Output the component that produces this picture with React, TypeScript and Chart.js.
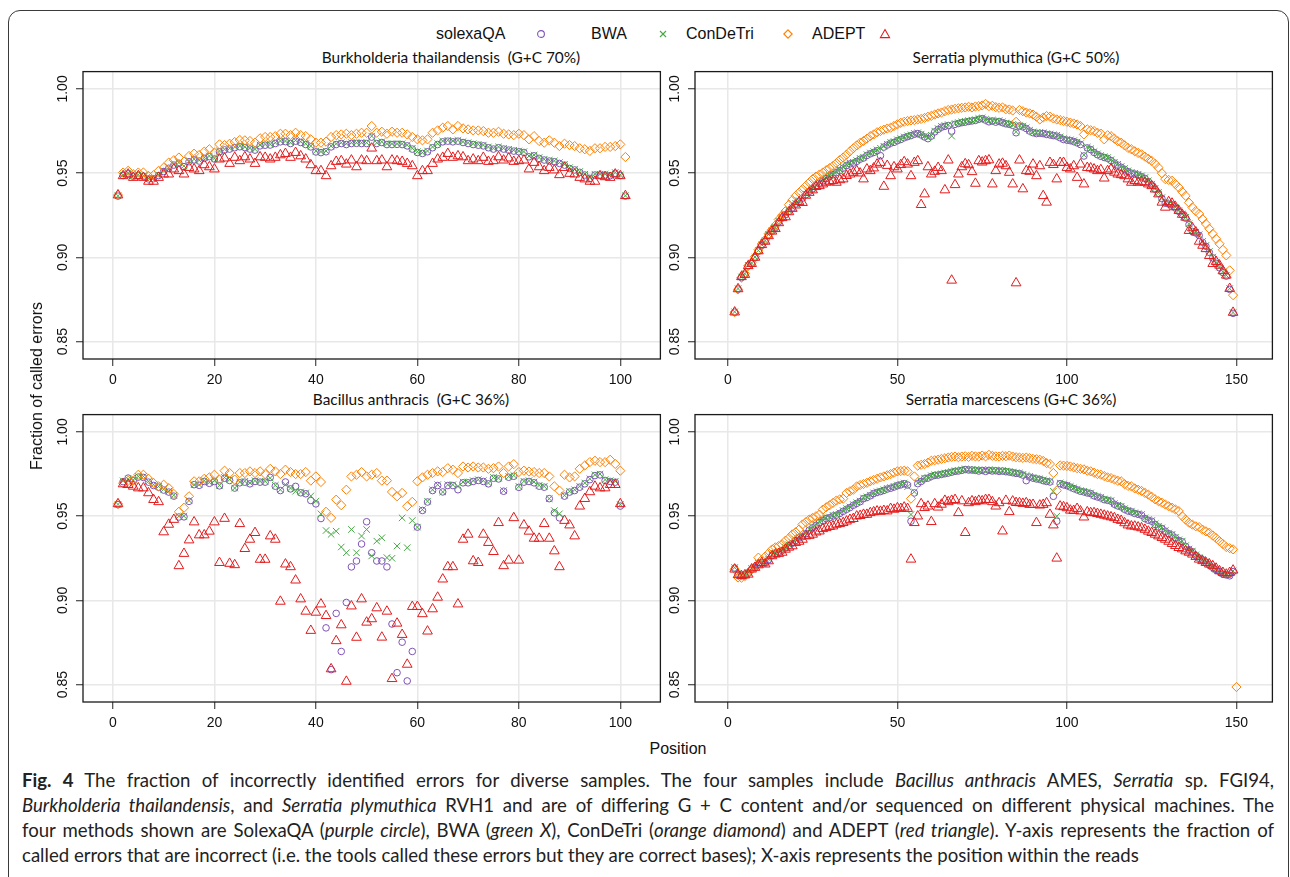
import React, { useEffect, useRef } from 'react';
import { Chart, registerables } from 'chart.js';
Chart.register(...registerables);

const range = (a: number, b: number) => Array.from({ length: b - a + 1 }, (_, i) => a + i);

// ---------- Panel 1: Burkholderia thailandensis (positions 1..101), values in thousandths ----------
const P1_POS = range(1, 101);
const P1_SOLEXA = [
  936.4, 948.6, 949.6, 948.2, 948.7, 948.1, 946.6, 946.7, 948.6, 951.0,
  952.9, 954.8, 955.9, 953.9, 956.8, 957.9, 957.2, 958.8, 959.8, 958.4,
  962.7, 963.8, 964.3, 965.1, 965.7, 965.2, 964.3, 963.7, 966.2, 966.6,
  966.7, 967.6, 968.6, 968.7, 967.6, 969.0, 968.2, 967.0, 965.6, 962.6,
  962.2, 962.7, 965.6, 967.0, 967.6, 967.0, 967.6, 967.7, 967.6, 967.6,
  971.4, 967.6, 968.2, 967.0, 967.0, 967.1, 967.0, 966.2, 964.3, 962.3,
  961.7, 962.7, 965.1, 967.0, 968.6, 969.0, 968.6, 969.0, 968.2, 967.6,
  967.0, 966.6, 966.2, 965.1, 964.3, 965.1, 964.3, 963.7, 963.1, 962.7,
  962.3, 959.7, 960.3, 958.8, 957.8, 957.2, 956.8, 955.8, 954.8, 952.8,
  951.9, 950.5, 948.9, 946.9, 948.9, 948.9, 948.9, 948.5, 949.9, 948.6,
  936.4,
];
const P1_BWA = [
  936.6, 949.0, 950.0, 948.5, 949.0, 948.5, 947.0, 947.0, 949.0, 951.4,
  953.3, 955.3, 956.3, 954.3, 957.3, 958.3, 957.7, 959.3, 960.2, 958.9,
  963.2, 964.2, 964.8, 965.6, 966.1, 965.6, 964.8, 964.2, 966.7, 967.1,
  967.1, 968.1, 969.1, 969.1, 968.1, 969.5, 968.7, 967.5, 966.1, 963.2,
  962.8, 963.2, 966.1, 967.5, 968.1, 967.5, 968.1, 968.1, 968.1, 968.1,
  972.0, 968.1, 968.7, 967.5, 967.5, 967.5, 967.5, 966.7, 964.8, 962.8,
  962.2, 963.2, 965.6, 967.5, 969.1, 969.5, 969.1, 969.5, 968.7, 968.1,
  967.5, 967.1, 966.7, 965.6, 964.8, 965.6, 964.8, 964.2, 963.6, 963.2,
  962.8, 960.2, 960.8, 959.3, 958.3, 957.7, 957.3, 956.3, 955.3, 953.3,
  952.4, 951.0, 949.4, 947.4, 949.4, 949.4, 949.4, 949.0, 950.4, 949.0,
  936.6,
];
const P1_CONDETRI = [
  937.0, 950.4, 951.4, 949.4, 950.4, 950.4, 948.4, 948.8, 951.4, 953.3,
  956.3, 957.7, 959.3, 956.9, 960.2, 961.6, 960.8, 962.8, 964.2, 962.2,
  967.1, 966.7, 967.5, 968.5, 969.7, 969.5, 969.1, 968.1, 970.7, 971.5,
  971.5, 972.0, 973.4, 973.4, 972.6, 974.0, 972.6, 972.0, 970.1, 968.1,
  968.1, 968.7, 971.5, 972.6, 973.0, 973.4, 972.6, 973.4, 974.0, 974.0,
  978.0, 974.0, 974.6, 973.4, 974.6, 974.0, 974.0, 973.0, 971.5, 970.1,
  969.5, 970.1, 974.0, 975.4, 977.0, 978.0, 976.0, 978.0, 976.6, 976.0,
  975.4, 975.4, 975.0, 974.0, 974.0, 974.6, 973.4, 973.0, 972.6, 973.4,
  972.6, 970.1, 972.0, 969.1, 968.1, 969.5, 968.1, 966.1, 967.5, 966.7,
  966.1, 964.8, 964.2, 963.2, 964.8, 964.8, 965.6, 965.6, 966.1, 967.1,
  959.6,
];
const P1_ADEPT = [
  937.0, 948.4, 949.4, 947.4, 948.4, 947.4, 945.1, 945.1, 947.4, 949.4,
  949.4, 952.4, 951.4, 949.4, 953.3, 952.4, 951.4, 954.9, 953.7, 952.4,
  958.3, 958.9, 955.7, 959.3, 957.3, 959.6, 958.3, 955.7, 959.6, 959.3,
  958.3, 959.3, 960.8, 961.6, 959.3, 962.2, 960.2, 958.3, 954.9, 951.4,
  951.4, 948.4, 954.3, 956.9, 957.3, 955.3, 957.7, 953.7, 957.7, 957.3,
  964.8, 957.3, 957.7, 953.7, 957.7, 957.3, 956.9, 955.7, 954.3, 948.4,
  951.4, 951.4, 955.7, 958.3, 959.3, 961.6, 959.3, 960.2, 959.6, 957.3,
  958.3, 957.3, 959.3, 956.9, 957.3, 959.6, 957.7, 958.9, 956.9, 957.3,
  957.7, 952.4, 956.3, 953.7, 951.4, 953.3, 951.8, 949.0, 953.3, 949.8,
  949.4, 947.4, 946.5, 945.1, 945.1, 948.4, 947.8, 947.4, 949.4, 948.4,
  936.6,
];

// ---------- Panel 2: Serratia plymuthica (positions 2..149) ----------
const P2_POS = range(2, 149);
const P2_SOLEXA = [
  867.5, 881.2, 888.0, 890.0, 895.0, 896.3, 899.8, 903.7, 907.1, 909.6,
  913.2, 915.6, 917.6, 921.1, 923.4, 925.4, 927.4, 929.3, 931.7, 933.3,
  935.2, 937.2, 939.2, 940.7, 942.5, 944.1, 945.4, 946.8, 948.2, 949.1,
  950.3, 951.5, 953.0, 954.5, 955.5, 956.0, 957.0, 958.3, 959.0, 960.5,
  961.5, 962.3, 963.3, 960.4, 965.5, 966.7, 967.8, 968.3, 969.3, 970.0,
  971.0, 971.7, 972.3, 973.1, 973.5, 972.7, 971.5, 970.5, 972.0, 974.5,
  976.0, 977.3, 977.8, 978.3, 975.0, 979.0, 979.5, 980.0, 980.3, 980.7,
  981.0, 981.3, 982.0, 982.4, 981.5, 980.5, 981.0, 980.3, 980.7, 980.0,
  979.3, 979.0, 978.4, 974.0, 978.0, 977.5, 976.5, 975.0, 974.0, 973.5,
  973.7, 973.5, 973.0, 972.7, 972.3, 972.0, 971.0, 970.0, 969.6, 969.3,
  968.8, 968.0, 967.0, 960.2, 965.0, 964.0, 962.3, 961.0, 960.0, 959.3,
  958.8, 957.5, 956.0, 954.8, 953.5, 952.3, 950.9, 950.0, 949.5, 948.9,
  947.9, 946.9, 945.0, 943.0, 940.5, 938.1, 935.0, 932.2, 931.7, 931.2,
  929.3, 927.3, 925.3, 923.3, 919.5, 915.4, 914.5, 913.0, 909.0, 906.6,
  903.0, 899.7, 896.5, 893.8, 891.0, 888.9, 881.0, 866.8,
];
const P2_BWA = [
  867.7, 881.5, 888.4, 890.4, 895.3, 896.7, 900.2, 904.1, 907.5, 910.0,
  913.6, 916.0, 918.0, 921.5, 923.8, 925.8, 927.8, 929.7, 932.1, 933.7,
  935.6, 937.6, 939.6, 941.1, 942.9, 944.5, 945.9, 947.2, 948.6, 949.6,
  950.8, 952.0, 953.5, 955.0, 956.0, 956.5, 957.5, 958.8, 959.5, 961.0,
  962.0, 962.8, 963.8, 964.8, 966.0, 967.2, 968.3, 968.8, 969.8, 970.5,
  971.5, 972.2, 972.8, 973.6, 974.0, 973.2, 972.0, 971.0, 972.5, 975.0,
  976.5, 977.8, 978.3, 978.8, 972.0, 979.5, 980.0, 980.5, 980.8, 981.2,
  981.5, 981.8, 982.5, 982.9, 982.0, 981.0, 981.5, 980.8, 981.2, 980.5,
  979.8, 979.5, 978.9, 974.6, 978.5, 978.0, 977.0, 975.5, 974.5, 974.0,
  974.2, 974.0, 973.5, 973.2, 972.8, 972.5, 971.5, 970.5, 970.1, 969.8,
  969.3, 968.5, 967.5, 960.8, 965.5, 964.5, 962.8, 961.5, 960.5, 959.8,
  959.3, 958.0, 956.5, 955.3, 954.0, 952.8, 951.4, 950.5, 950.0, 949.4,
  948.4, 947.4, 945.5, 943.5, 941.0, 938.6, 935.5, 932.7, 932.2, 931.7,
  929.8, 927.8, 925.8, 923.8, 920.0, 915.9, 915.0, 913.5, 909.5, 907.1,
  903.5, 900.2, 897.0, 894.3, 891.5, 889.4, 881.5, 867.3,
];
const P2_CONDETRI = [
  867.5, 881.0, 888.0, 890.5, 895.0, 897.0, 900.5, 904.5, 908.0, 910.5,
  914.0, 916.5, 919.0, 922.5, 925.0, 927.5, 931.3, 934.0, 936.6, 938.5,
  940.5, 942.5, 944.5, 946.5, 948.0, 949.2, 950.4, 951.8, 953.0, 954.3,
  956.0, 957.8, 959.3, 961.0, 963.0, 964.8, 966.5, 968.0, 969.1, 970.5,
  972.0, 973.0, 974.3, 975.0, 975.8, 976.5, 977.0, 978.0, 979.0, 979.9,
  980.5, 981.0, 981.3, 981.5, 981.9, 982.2, 982.8, 983.5, 984.0, 984.8,
  985.5, 986.0, 986.8, 987.5, 987.8, 988.2, 988.5, 988.8, 989.0, 989.4,
  989.0, 989.6, 989.8, 990.2, 991.1, 989.8, 990.0, 989.2, 988.8, 989.0,
  988.0, 987.8, 987.2, 980.5, 987.5, 986.8, 986.0, 985.5, 984.8, 983.5,
  981.9, 983.0, 983.9, 983.5, 982.5, 981.9, 981.5, 981.0, 980.5, 980.0,
  979.5, 978.9, 978.0, 973.0, 976.0, 975.5, 975.0, 974.0, 973.5, 970.1,
  972.5, 972.0, 970.5, 969.0, 968.1, 966.5, 965.0, 964.2, 963.0, 962.0,
  961.2, 959.8, 958.5, 957.3, 955.5, 953.3, 950.0, 946.5, 946.0, 945.5,
  943.5, 941.5, 939.0, 936.6, 932.5, 929.7, 927.5, 925.8, 922.8, 919.9,
  917.0, 914.0, 911.0, 908.1, 904.5, 901.2, 892.3, 877.6,
];
const P2_ADEPT = [
  867.5, 881.3, 888.5, 889.8, 895.0, 896.3, 900.0, 903.8, 907.5, 909.5,
  912.8, 915.5, 917.0, 920.5, 923.5, 924.0, 927.0, 929.0, 931.0, 933.0,
  932.5, 936.8, 938.5, 940.0, 942.0, 942.5, 943.5, 944.5, 945.1, 945.5,
  944.5, 946.0, 946.5, 948.5, 949.4, 950.4, 951.4, 950.0, 946.5, 952.4,
  951.4, 953.0, 955.3, 956.3, 942.1, 954.5, 948.4, 953.7, 952.4, 955.0,
  956.7, 955.3, 948.4, 956.3, 957.3, 931.3, 937.6, 953.7, 949.4, 951.0,
  953.3, 951.4, 940.0, 957.7, 886.4, 943.1, 949.4, 953.7, 955.5, 954.9,
  950.8, 943.9, 957.3, 956.5, 957.3, 957.8, 943.5, 951.4, 955.3, 955.8,
  954.3, 950.4, 943.5, 884.8, 957.7, 940.6, 951.4, 951.0, 955.3, 948.4,
  954.3, 936.6, 932.7, 956.3, 955.0, 946.5, 956.3, 956.3, 953.3, 952.4,
  954.3, 947.4, 955.3, 943.5, 953.3, 953.0, 952.4, 951.4, 952.0, 947.0,
  951.4, 952.4, 950.5, 949.4, 949.0, 948.4, 946.5, 944.5, 945.5, 944.5,
  944.8, 944.5, 943.5, 942.5, 940.5, 937.6, 932.7, 929.7, 933.0, 932.1,
  930.0, 927.8, 925.5, 923.8, 915.9, 917.5, 915.0, 909.5, 907.1, 905.1,
  901.0, 896.3, 897.5, 895.3, 892.0, 889.4, 881.5, 867.3,
];

// ---------- Panel 3: Bacillus anthracis (positions 1..100) ----------
const P3_POS = range(1, 100);
const P3_SOLEXA = [
  956.8, 970.5, 972.6, 971.0, 973.2, 973.0, 970.2, 968.2, 967.2, 965.5,
  964.3, 961.9, 949.5, 949.6, 958.8, 968.7, 968.3, 970.6, 969.5, 970.6,
  968.0, 972.5, 971.2, 966.7, 969.8, 970.2, 969.2, 970.6, 970.2, 970.2,
  973.0, 967.8, 965.2, 970.3, 966.2, 967.7, 963.9, 963.3, 959.3, 957.3,
  948.6, 883.7, 858.9, 892.3, 869.7, 898.8, 919.9, 923.4, 933.5, 946.7,
  928.3, 923.4, 923.4, 919.9, 886.0, 857.1, 875.2, 852.2, 869.7, 943.5,
  953.4, 958.4, 965.2, 968.2, 964.4, 968.2, 968.2, 965.7, 969.8, 969.8,
  970.6, 971.2, 970.6, 969.2, 972.5, 972.1, 964.8, 973.1, 973.7, 967.1,
  970.2, 970.6, 969.8, 967.8, 967.2, 960.4, 952.0, 949.0, 961.9, 964.3,
  965.2, 967.2, 969.2, 971.7, 974.1, 974.5, 971.2, 970.6, 970.2, 956.0,
];
const P3_BWA = [
  957.0, 971.0, 972.0, 971.5, 973.6, 973.6, 970.7, 968.7, 967.7, 966.0,
  964.8, 962.4, 950.0, 950.0, 959.3, 968.7, 968.7, 971.1, 970.0, 971.1,
  968.3, 973.0, 971.7, 966.7, 970.3, 970.7, 969.7, 971.1, 970.7, 970.7,
  972.6, 968.3, 965.7, 968.7, 966.7, 964.8, 964.4, 963.8, 962.0, 958.9,
  951.4, 941.5, 939.2, 941.1, 931.7, 928.3, 942.1, 928.3, 938.2, 942.1,
  926.4, 935.2, 937.2, 925.4, 925.0, 932.3, 949.0, 931.3, 947.4, 943.5,
  953.9, 958.9, 965.7, 968.7, 964.4, 968.7, 968.7, 967.7, 970.3, 970.3,
  971.1, 971.7, 971.1, 969.7, 973.0, 972.6, 965.2, 973.6, 974.2, 967.7,
  970.7, 971.1, 970.3, 968.3, 967.7, 960.4, 953.3, 951.4, 962.4, 964.8,
  965.7, 967.7, 969.7, 972.2, 974.6, 975.0, 971.7, 971.1, 970.7, 956.9,
];
const P3_CONDETRI = [
  957.3, 969.5, 971.0, 971.1, 974.6, 974.6, 972.2, 969.7, 967.7, 968.7,
  966.7, 963.2, 952.6, 955.0, 961.8, 970.7, 970.7, 972.2, 973.0, 974.6,
  971.7, 977.0, 975.6, 971.7, 975.6, 975.6, 976.6, 975.6, 976.6, 975.0,
  978.1, 976.6, 975.0, 977.6, 976.2, 975.0, 975.0, 976.2, 971.1, 973.6,
  970.3, 952.6, 949.0, 959.8, 956.5, 965.7, 973.6, 974.6, 976.2, 973.6,
  974.6, 975.6, 971.1, 971.1, 964.4, 961.8, 963.8, 955.9, 958.5, 970.7,
  973.0, 974.6, 975.6, 976.6, 976.2, 978.5, 977.6, 975.6, 979.5, 978.9,
  979.5, 978.9, 978.9, 978.1, 978.5, 979.5, 975.6, 979.5, 980.9, 976.2,
  977.0, 976.5, 976.2, 975.6, 975.6, 973.6, 967.7, 965.2, 974.6, 973.0,
  973.6, 978.1, 980.1, 982.1, 982.9, 982.1, 982.1, 983.5, 981.0, 977.0,
];
const P3_ADEPT = [
  957.3, 969.1, 968.7, 967.7, 966.7, 966.7, 963.8, 959.8, 958.5, 940.6,
  945.1, 948.0, 920.5, 927.8, 935.8, 946.5, 938.8, 938.8, 941.0, 946.5,
  922.4, 948.6, 921.9, 921.1, 945.5, 930.7, 936.2, 940.2, 924.3, 924.3,
  938.2, 936.2, 899.4, 921.5, 919.9, 912.0, 900.8, 893.5, 882.1, 892.9,
  897.8, 890.9, 859.3, 876.0, 885.4, 851.9, 896.6, 878.0, 900.8, 887.0,
  889.0, 895.5, 878.1, 893.5, 853.5, 886.4, 879.7, 862.0, 896.3, 896.3,
  892.0, 881.7, 894.9, 901.8, 912.6, 919.9, 919.9, 897.8, 936.2, 939.2,
  923.4, 922.4, 939.2, 934.3, 928.9, 946.1, 920.5, 923.8, 949.0, 923.8,
  944.7, 941.0, 936.8, 936.8, 945.5, 936.8, 929.3, 919.9, 947.4, 944.7,
  938.2, 955.9, 960.4, 964.4, 967.7, 966.7, 966.7, 968.7, 968.7, 957.3,
];

// ---------- Panel 4: Serratia marcescens (positions 2..149, ConDeTri 2..150) ----------
const P4_POS = range(2, 149);
const P4_POS_CONDETRI = range(2, 150);
const P4_SOLEXA = [
  919.2, 915.6, 914.6, 915.1, 916.1, 918.6, 919.6, 921.6, 922.4, 922.1,
  924.1, 926.6, 927.6, 928.6, 929.6, 931.1, 932.6, 933.9, 935.6, 937.1,
  937.8, 939.6, 941.7, 943.1, 944.6, 946.3, 947.4, 948.6, 949.1, 950.1,
  950.6, 951.6, 952.9, 954.1, 955.1, 956.5, 957.6, 958.6, 960.4, 961.1,
  962.1, 963.4, 964.1, 964.6, 965.3, 966.1, 966.6, 967.3, 968.1, 968.6,
  969.3, 968.5, 947.0, 963.8, 969.3, 970.6, 972.2, 972.6, 973.6, 974.2,
  974.4, 974.8, 975.2, 975.6, 976.1, 976.6, 976.8, 977.2, 977.7, 977.4,
  977.4, 977.2, 976.8, 977.2, 976.6, 977.2, 976.8, 977.0, 976.6, 976.8,
  976.4, 976.2, 975.8, 975.4, 975.2, 974.4, 971.1, 973.2, 972.6, 972.1,
  971.8, 971.1, 970.6, 970.3, 961.8, 947.0, 969.3, 968.6, 968.1, 967.3,
  966.4, 965.6, 964.8, 964.4, 963.8, 963.4, 962.1, 961.4, 960.8, 959.8,
  959.4, 958.9, 957.1, 956.1, 955.5, 954.1, 953.1, 952.6, 951.6, 951.1,
  950.6, 948.6, 947.6, 947.0, 945.1, 943.6, 942.7, 941.1, 939.6, 938.8,
  937.1, 935.6, 934.8, 932.1, 930.1, 928.9, 926.6, 925.1, 924.0, 922.6,
  921.1, 919.6, 918.1, 917.1, 915.6, 915.1, 914.6, 917.1,
];
const P4_BWA = [
  919.5, 916.0, 915.0, 915.5, 916.5, 919.0, 920.0, 922.0, 922.8, 922.5,
  924.5, 927.0, 928.0, 929.0, 930.0, 931.5, 933.0, 934.3, 936.0, 937.5,
  938.2, 940.0, 942.1, 943.5, 945.0, 946.7, 947.8, 949.0, 949.5, 950.5,
  951.0, 952.0, 953.3, 954.5, 955.5, 956.9, 958.0, 959.0, 960.8, 961.5,
  962.5, 963.8, 964.5, 965.0, 965.7, 966.5, 967.0, 967.7, 968.5, 969.0,
  969.7, 967.5, 951.0, 964.5, 969.7, 971.0, 972.6, 973.0, 974.0, 974.6,
  974.8, 975.2, 975.6, 976.0, 976.5, 977.0, 977.2, 977.6, 978.1, 977.8,
  977.8, 977.6, 977.2, 977.6, 977.0, 977.6, 977.2, 977.4, 977.0, 977.2,
  976.8, 976.6, 976.2, 975.8, 975.6, 974.8, 974.2, 973.6, 973.0, 972.5,
  972.2, 971.5, 971.0, 970.7, 964.8, 950.0, 969.7, 969.0, 968.5, 967.7,
  966.8, 966.0, 965.2, 964.8, 964.2, 963.8, 962.5, 961.8, 961.2, 960.2,
  959.8, 959.3, 957.5, 956.5, 955.9, 954.5, 953.5, 953.0, 952.0, 951.5,
  951.0, 949.0, 948.0, 947.4, 945.5, 944.0, 943.1, 941.5, 940.0, 939.2,
  937.5, 936.0, 935.2, 932.5, 930.5, 929.3, 927.0, 925.5, 924.4, 923.0,
  921.5, 920.0, 918.5, 917.5, 916.0, 915.5, 915.2, 917.5,
];
const P4_CONDETRI = [
  918.5, 913.6, 913.5, 914.5, 916.5, 918.5, 920.0, 925.4, 924.0, 926.0,
  928.0, 930.3, 931.5, 932.3, 933.3, 935.5, 937.0, 939.2, 940.5, 942.1,
  945.1, 946.5, 948.0, 949.0, 950.0, 951.0, 953.9, 955.3, 956.5, 957.9,
  959.3, 960.0, 960.4, 963.8, 964.8, 965.7, 967.7, 968.5, 969.1, 969.8,
  970.7, 971.5, 972.2, 973.0, 973.6, 974.3, 975.0, 975.8, 976.6, 976.8,
  977.0, 976.6, 960.4, 973.6, 980.0, 980.5, 980.9, 981.8, 982.9, 983.2,
  983.5, 984.0, 984.4, 984.8, 985.2, 985.4, 985.0, 985.4, 985.6, 985.2,
  985.8, 985.5, 985.4, 986.0, 985.5, 986.4, 985.8, 985.5, 985.4, 985.8,
  985.6, 986.0, 985.4, 985.0, 984.8, 984.6, 984.8, 984.4, 984.0, 983.8,
  983.5, 982.8, 981.5, 981.0, 975.6, 965.2, 980.1, 980.0, 979.8, 979.5,
  979.0, 978.5, 978.1, 977.8, 977.0, 976.6, 975.8, 975.0, 974.6, 973.8,
  973.0, 972.6, 971.8, 971.0, 970.7, 969.0, 968.0, 967.7, 966.5, 965.7,
  965.0, 963.8, 962.8, 961.5, 960.0, 958.9, 958.0, 957.0, 955.9, 955.0,
  954.0, 953.0, 950.0, 948.0, 946.1, 945.0, 944.0, 943.5, 942.0, 941.0,
  940.2, 938.5, 937.0, 935.2, 933.5, 931.7, 931.0, 930.3, 848.6,
];
const P4_ADEPT = [
  918.5, 915.2, 914.6, 915.0, 915.5, 918.5, 919.5, 921.0, 922.4, 921.5,
  923.4, 926.4, 927.4, 927.8, 928.5, 930.3, 931.5, 932.3, 934.3, 935.0,
  936.2, 938.2, 938.5, 939.2, 940.5, 941.1, 942.5, 943.1, 943.8, 944.1,
  945.1, 945.5, 946.1, 947.0, 948.0, 948.5, 950.0, 950.3, 951.0, 951.0,
  952.0, 952.5, 953.0, 952.8, 953.3, 953.0, 954.5, 954.0, 954.9, 954.5,
  955.3, 954.5, 924.4, 946.1, 950.0, 957.3, 955.0, 955.9, 946.7, 957.3,
  955.3, 957.0, 959.3, 958.5, 959.3, 959.8, 952.0, 959.0, 940.2, 957.9,
  959.0, 958.5, 959.3, 959.0, 959.8, 959.8, 958.5, 955.9, 957.9, 941.1,
  959.3, 952.6, 958.9, 958.0, 957.9, 957.5, 957.9, 956.9, 956.9, 946.1,
  956.5, 956.9, 957.9, 951.0, 944.7, 925.0, 955.9, 955.5, 954.9, 953.5,
  953.3, 954.5, 953.0, 949.4, 952.5, 952.0, 952.0, 951.5, 951.0, 950.5,
  950.0, 949.5, 949.0, 948.0, 947.4, 946.0, 944.7, 944.1, 944.0, 943.5,
  943.0, 942.1, 941.0, 940.2, 939.2, 938.2, 937.2, 936.2, 935.0, 933.7,
  932.5, 931.3, 930.5, 929.3, 928.5, 927.4, 926.0, 924.4, 923.5, 922.4,
  921.5, 920.5, 919.0, 917.5, 916.5, 915.5, 916.5, 917.9,
];

// ---------- axes ----------
const Y_TICKS = [0.85, 0.9, 0.95, 1.0];
const Y_MIN = 0.8397;
const Y_MAX = 1.0103;
const X_TICKS_100 = [0, 20, 40, 60, 80, 100];
const X_TICKS_150 = [0, 50, 100, 150];

const SERIES = ['solexaQA', 'BWA', 'ConDeTri', 'ADEPT'];
const COLORS: Record<string, string> = {
  solexaQA: '#7f52b8',
  BWA: '#47a845',
  ConDeTri: '#ff8000',
  ADEPT: '#e41a1c',
};
const MARKERS: Record<string, { style: string; r: number }> = {
  solexaQA: { style: 'circle', r: 3.3 },
  BWA: { style: 'crossRot', r: 4.6 },
  ConDeTri: { style: 'rectRot', r: 4.6 },
  ADEPT: { style: 'triangle', r: 5.6 },
};

type PanelDef = {
  title: string;
  tx: number;
  ty: number;
  left: number;
  top: number;
  xMin: number;
  xMax: number;
  xTicks: number[];
  data: Record<string, [number[], number[]]>;
};

const PANELS: PanelDef[] = [
  {
    title: 'Burkholderia thailandensis  (G+C 70%)', tx: 451, ty: 57,
    left: 43, top: 65, xMin: -5.9, xMax: 107.9, xTicks: X_TICKS_100,
    data: { solexaQA: [P1_POS, P1_SOLEXA], BWA: [P1_POS, P1_BWA], ConDeTri: [P1_POS, P1_CONDETRI], ADEPT: [P1_POS, P1_ADEPT] },
  },
  {
    title: 'Serratia plymuthica (G+C 50%)', tx: 1016, ty: 57,
    left: 655, top: 65, xMin: -9.7, xMax: 160.6, xTicks: X_TICKS_150,
    data: { solexaQA: [P2_POS, P2_SOLEXA], BWA: [P2_POS, P2_BWA], ConDeTri: [P2_POS, P2_CONDETRI], ADEPT: [P2_POS, P2_ADEPT] },
  },
  {
    title: 'Bacillus anthracis  (G+C 36%)', tx: 411, ty: 399,
    left: 43, top: 408, xMin: -5.9, xMax: 107.9, xTicks: X_TICKS_100,
    data: { solexaQA: [P3_POS, P3_SOLEXA], BWA: [P3_POS, P3_BWA], ConDeTri: [P3_POS, P3_CONDETRI], ADEPT: [P3_POS, P3_ADEPT] },
  },
  {
    title: 'Serratia marcescens (G+C 36%)', tx: 1011, ty: 399,
    left: 655, top: 408, xMin: -9.7, xMax: 160.6, xTicks: X_TICKS_150,
    data: { solexaQA: [P4_POS, P4_SOLEXA], BWA: [P4_POS, P4_BWA], ConDeTri: [P4_POS_CONDETRI, P4_CONDETRI], ADEPT: [P4_POS, P4_ADEPT] },
  },
];

const CW = 624;
const CH = 329;
const AXIS_W = 40;
const AXIS_H = 35;
const TICK_FONT = '"Liberation Sans", Arial, sans-serif';

const framePlugin = {
  id: 'frameAndYLabels',
  afterDraw(chart: any) {
    const { ctx, chartArea: a, scales } = chart;
    ctx.save();
    ctx.strokeStyle = '#1a1a1a';
    ctx.lineWidth = 1.3;
    ctx.strokeRect(a.left, a.top, a.right - a.left, a.bottom - a.top);
    ctx.fillStyle = '#111';
    ctx.font = `14px ${TICK_FONT}`;
    ctx.textAlign = 'center';
    ctx.textBaseline = 'middle';
    for (const t of Y_TICKS) {
      const py = scales.y.getPixelForValue(t);
      ctx.save();
      ctx.translate(a.left - 20, py);
      ctx.rotate(-Math.PI / 2);
      ctx.fillText(t.toFixed(2), 0, 0);
      ctx.restore();
    }
    ctx.restore();
  },
};

function buildConfig(p: PanelDef): any {
  const datasets = [...SERIES].reverse().map((name) => {
    const [xs, ys] = p.data[name];
    const m = MARKERS[name];
    return {
      label: name,
      data: xs.map((x, i) => ({ x, y: ys[i] / 1000 })),
      showLine: false,
      borderColor: COLORS[name],
      backgroundColor: 'rgba(0,0,0,0)',
      pointBorderColor: COLORS[name],
      pointBackgroundColor: 'rgba(0,0,0,0)',
      pointBorderWidth: 1,
      pointStyle: m.style,
      pointRadius: m.r,
      pointHoverRadius: m.r,
    };
  });
  return {
    type: 'scatter',
    data: { datasets },
    options: {
      animation: false,
      responsive: false,
      devicePixelRatio: 1,
      events: [],
      layout: { padding: { top: 5, right: 5, left: 0, bottom: 0 } },
      plugins: { legend: { display: false }, tooltip: { enabled: false }, title: { display: false } },
      scales: {
        x: {
          type: 'linear',
          min: p.xMin,
          max: p.xMax,
          afterBuildTicks: (s: any) => { s.ticks = p.xTicks.map((v) => ({ value: v })); },
          afterFit: (s: any) => { s.height = AXIS_H; },
          grid: { color: '#e8e8e8', lineWidth: 1.5, drawTicks: true, tickLength: 7, tickColor: '#222', tickWidth: 1 },
          border: { display: false },
          ticks: { color: '#111', font: { family: TICK_FONT, size: 14 }, padding: 6, maxRotation: 0, minRotation: 0, autoSkip: false },
        },
        y: {
          type: 'linear',
          min: Y_MIN,
          max: Y_MAX,
          afterBuildTicks: (s: any) => { s.ticks = Y_TICKS.map((v) => ({ value: v })); },
          afterFit: (s: any) => { s.width = AXIS_W; },
          grid: { color: '#e8e8e8', lineWidth: 1.5, drawTicks: true, tickLength: 7, tickColor: '#222', tickWidth: 1 },
          border: { display: false },
          ticks: { display: false },
        },
      },
    },
    plugins: [framePlugin],
  };
}

function Panel({ p }: { p: PanelDef }) {
  const ref = useRef<HTMLCanvasElement>(null);
  useEffect(() => {
    const chart = new Chart(ref.current as HTMLCanvasElement, buildConfig(p));
    return () => chart.destroy();
  }, [p]);
  return (
    <canvas
      ref={ref}
      width={CW}
      height={CH}
      style={{ position: 'absolute', left: p.left, top: p.top, width: CW, height: CH }}
    />
  );
}

function Marker({ name }: { name: string }) {
  const c = COLORS[name];
  const sw = 1.1;
  let shape: React.ReactNode = null;
  if (name === 'solexaQA') shape = <circle cx={6} cy={6} r={3.4} fill="none" stroke={c} strokeWidth={sw} />;
  if (name === 'BWA') shape = (<g stroke={c} strokeWidth={sw}><line x1={3} y1={3} x2={9} y2={9} /><line x1={9} y1={3} x2={3} y2={9} /></g>);
  if (name === 'ConDeTri') shape = <polygon points="6,1.8 10.2,6 6,10.2 1.8,6" fill="none" stroke={c} strokeWidth={sw} />;
  if (name === 'ADEPT') shape = <polygon points="6,1.5 10.6,9.6 1.4,9.6" fill="none" stroke={c} strokeWidth={sw} />;
  return <svg width={12} height={12} style={{ display: 'block' }}>{shape}</svg>;
}

const LEGEND_POS: Record<string, { text: number; sym: number }> = {
  solexaQA: { text: 436, sym: 541 },
  BWA: { text: 591, sym: 663 },
  ConDeTri: { text: 686, sym: 788 },
  ADEPT: { text: 812, sym: 885 },
};

const abs = (l: number, t: number): React.CSSProperties => ({ position: 'absolute', left: l, top: t });

export default function App() {
  const sans = TICK_FONT;
  const capFont = 'Lato, "Open Sans", sans-serif';
  const justified: React.CSSProperties = { width: 1252, textAlign: 'justify', textAlignLast: 'justify' as any, whiteSpace: 'nowrap' };
  return (
    <div style={{ position: 'absolute', left: 0, top: 0, width: 1290, height: 877, overflow: 'hidden', background: '#fff' }}>
      <div style={{ position: 'absolute', left: 8, top: 10, width: 1281, height: 900, border: '1.5px solid #3a3a3a', borderRadius: 12, boxSizing: 'border-box' }} />
      {SERIES.map((name) => (
        <React.Fragment key={name}>
          <div style={{ ...abs(LEGEND_POS[name].text, 24), font: `16px ${sans}`, color: '#111', whiteSpace: 'nowrap', lineHeight: '20px' }}>{name}</div>
          <div style={abs(LEGEND_POS[name].sym - 6, 28)}><Marker name={name} /></div>
        </React.Fragment>
      ))}
      {PANELS.map((p, i) => (
        <div key={'t' + i} style={{ position: 'absolute', left: p.tx, top: p.ty, transform: 'translate(-50%, -50%)', font: `15.4px ${capFont}`, color: '#111', whiteSpace: 'pre' }}>{p.title}</div>
      ))}
      {PANELS.map((p, i) => <Panel key={i} p={p} />)}
      <div style={{ position: 'absolute', left: 37, top: 386, transform: 'translate(-50%, -50%) rotate(-90deg)', font: `16px ${sans}`, color: '#111', whiteSpace: 'nowrap' }}>Fraction of called errors</div>
      <div style={{ position: 'absolute', left: 678, top: 749, transform: 'translate(-50%, -50%)', font: `16px ${sans}`, color: '#111', whiteSpace: 'nowrap' }}>Position</div>
      <div style={{ position: 'absolute', left: 22, top: 768, font: `18.6px ${capFont}`, color: '#222', lineHeight: '25px' }}>
        <div style={justified}><b>Fig. 4</b> The fraction of incorrectly identified errors for diverse samples. The four samples include <i>Bacillus anthracis</i> AMES, <i>Serratia</i> sp. FGI94,</div>
        <div style={justified}><i>Burkholderia thailandensis</i>, and <i>Serratia plymuthica</i> RVH1 and are of differing G + C content and/or sequenced on different physical machines. The</div>
        <div style={justified}>four methods shown are SolexaQA (<i>purple circle</i>), BWA (<i>green X</i>), ConDeTri (<i>orange diamond</i>) and ADEPT (<i>red triangle</i>). Y-axis represents the fraction of</div>
        <div style={{ whiteSpace: 'nowrap' }}>called errors that are incorrect (i.e. the tools called these errors but they are correct bases); X-axis represents the position within the reads</div>
      </div>
    </div>
  );
}
